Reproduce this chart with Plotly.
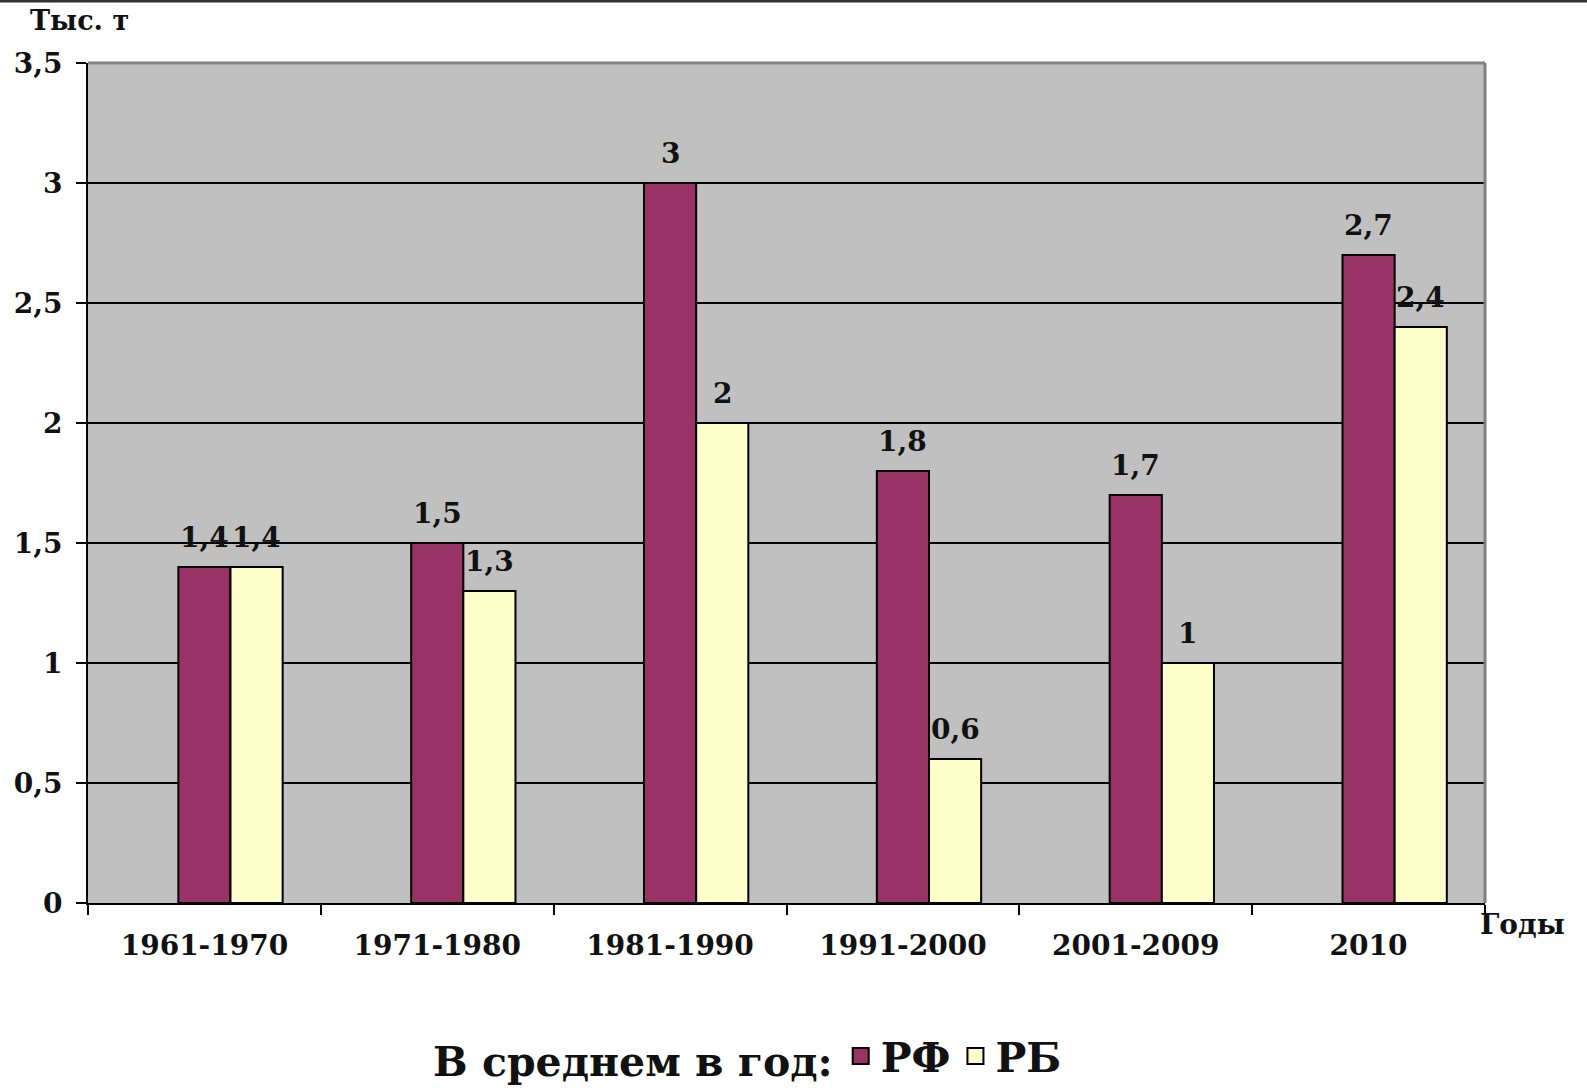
import plotly.graph_objects as go

categories = ["1961-1970", "1971-1980", "1981-1990", "1991-2000", "2001-2009", "2010"]
rf_values = [1.4, 1.5, 3.0, 1.8, 1.7, 2.7]
rb_values = [1.4, 1.3, 2.0, 0.6, 1.0, 2.4]
series_names = ["РФ", "РБ"]
y_title = "Тыс. т"
x_title = "Годы"
legend_title = "В среднем в год:"

RF_COLOR = "#993366"
RB_COLOR = "#FFFFCC"
FONT = "DejaVu Serif"

W, H = 1587, 1088
ML, MR, MT, MB = 88, 102, 63, 185
BAR_W = 0.224
CAT_PX = (W - ML - MR) / len(categories)


def f(size):
    return dict(family=FONT, size=size, color="#111", weight="bold")


def fmt(v):
    return f"{v:g}".replace(".", ",")


fig = go.Figure()
annotations = []
for vals, name, color, off in [(rf_values, series_names[0], RF_COLOR, -BAR_W / 2),
                               (rb_values, series_names[1], RB_COLOR, BAR_W / 2)]:
    fig.add_trace(go.Bar(
        x=categories, y=vals, name=name, showlegend=False,
        width=BAR_W, offset=off,
        marker=dict(color=color, line=dict(color="black", width=2)),
        hoverinfo="x+y+name",
    ))
    fig.add_trace(go.Scatter(
        x=[None], y=[None], mode="markers", name=name,
        marker=dict(symbol="square", size=16, color=color,
                    line=dict(color="black", width=2)),
    ))
    for i, v in enumerate(vals):
        annotations.append(dict(
            x=i, y=v, xref="x", yref="y", text=fmt(v), showarrow=False,
            xanchor="center", yanchor="bottom",
            xshift=(off + BAR_W / 2) * CAT_PX, yshift=11, font=f(28),
        ))

annotations += [
    dict(text=y_title, xref="paper", yref="paper", x=-0.043, y=1.051,
         xanchor="left", yanchor="middle", showarrow=False, font=f(27)),
    dict(text=x_title, xref="paper", yref="paper", x=0.995, y=-0.026,
         xanchor="left", yanchor="middle", showarrow=False, font=f(28)),
]

fig.update_layout(
    width=W, height=H,
    margin=dict(l=ML, r=MR, t=MT, b=MB, autoexpand=False),
    paper_bgcolor="white", plot_bgcolor="#C0C0C0",
    barmode="overlay",
    separators=", ",
    font=f(28),
    showlegend=True,
    legend=dict(
        orientation="h", xref="container", yref="container",
        x=0.472, xanchor="center", y=0.029, yanchor="middle",
        title=dict(text=legend_title, side="left", font=f(41)),
        font=f(41),
        itemwidth=30, bgcolor="rgba(0,0,0,0)",
    ),
    xaxis=dict(
        type="category", tickson="boundaries", ticks="outside", ticklen=10,
        tickwidth=2, tickcolor="black", showline=True, linecolor="black",
        linewidth=2, showgrid=False, ticklabelstandoff=16, automargin=False,
        tickfont=f(28),
        range=[-0.5, 5.5],
    ),
    yaxis=dict(
        range=[0, 3.5], dtick=0.5, showgrid=True, gridcolor="black", gridwidth=1.5,
        zeroline=False, showline=True, linecolor="black", linewidth=2,
        ticks="outside", ticklen=10, tickwidth=2, tickcolor="black",
        ticklabelstandoff=8, automargin=False,
        tickfont=f(28),
    ),
    annotations=annotations,
    shapes=[
        dict(type="line", xref="paper", yref="paper", x0=0, x1=1, y0=1, y1=1,
             line=dict(color="#808080", width=3), layer="above"),
        dict(type="line", xref="paper", yref="paper", x0=1, x1=1, y0=0, y1=1,
             line=dict(color="#808080", width=3), layer="above"),
        dict(type="line", xref="paper", yref="paper",
             x0=-ML / (W - ML - MR), x1=1 + MR / (W - ML - MR),
             y0=1 + (MT - 1) / (H - MT - MB), y1=1 + (MT - 1) / (H - MT - MB),
             line=dict(color="#333333", width=3)),
    ],
)

fig.write_html(
    "out.html",
    config={"displayModeBar": False},
    post_script="document.body.style.margin='0px';document.body.style.overflow='hidden';",
)
